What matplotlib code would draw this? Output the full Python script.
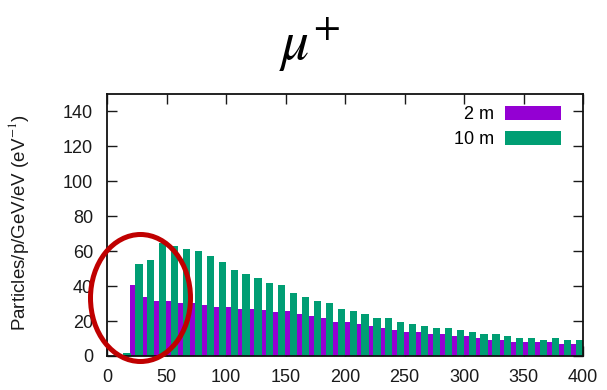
import matplotlib
matplotlib.use("Agg")
import matplotlib.pyplot as plt
from matplotlib.patches import Ellipse
import numpy as np

# ---- data ----
bin_starts = list(range(10, 400, 10))
vals_2m = [0.0, 40.5, 33.8, 31.7, 31.7, 30.5, 30.5, 29.4, 28.3, 28.3,
           27.1, 27.1, 26.1, 25.0, 26.0, 23.9, 22.7, 21.6, 19.4, 19.4,
           18.3, 17.1, 16.0, 14.8, 13.9, 13.9, 12.7, 12.7, 11.6, 11.4,
           10.3, 9.1, 9.1, 8.0, 8.0, 8.0, 8.0, 6.8, 6.8]
vals_10m = [1.5, 52.8, 54.8, 64.8, 62.8, 61.5, 60.4, 57.3, 53.7, 49.5,
            47.2, 44.9, 41.6, 40.5, 36.2, 33.9, 31.7, 30.5, 27.1, 25.9,
            23.8, 21.5, 21.5, 19.4, 18.3, 17.1, 16.0, 16.0, 14.9, 13.7,
            12.6, 12.6, 11.4, 10.3, 10.3, 9.1, 10.3, 9.1, 9.1]
labels = ["2 m", "10 m"]
xticks = [0, 50, 100, 150, 200, 250, 300, 350, 400]
yticks = [0, 20, 40, 60, 80, 100, 120, 140]

PURPLE = "#9400D3"
GREEN = "#009E73"

plt.rcParams['font.family'] = ['Liberation Sans', 'DejaVu Sans']
plt.rcParams['mathtext.fontset'] = 'stix'

W, H = 607, 390
fig = plt.figure(figsize=(W / 100, H / 100), dpi=100)
ax = fig.add_axes([107 / W, 1 - 356 / H, (583 - 107) / W, (356 - 94) / H])

x = np.array(bin_starts, dtype=float)
ax.bar(x - 0.3, vals_2m, width=4.3, align='edge', color=PURPLE,
       linewidth=0, label=labels[0], zorder=2)
ax.bar(x + 3.8, vals_10m, width=6.1, align='edge', color=GREEN,
       linewidth=0, label=labels[1], zorder=3)

ax.set_xlim(0, 400)
ax.set_ylim(0, 150)
ax.set_xticks(xticks)
ax.set_yticks(yticks)
ax.tick_params(direction='in', length=7.2, width=1.0, top=True, right=True,
               labelsize=13, colors='#1a1a1a')
ax.tick_params(axis='x', pad=9)
ax.tick_params(axis='y', pad=10)
for s in ax.spines.values():
    s.set_linewidth(1.3)
    s.set_color('#111111')
    s.set_zorder(5)

ax.set_ylabel("Particles/p/GeV/eV (eV$^{-1}$)", fontsize=13.5, color='#1a1a1a')
ax.yaxis.set_label_coords((31 - 107) / 476, (356 - 223) / 262)

leg = ax.legend(loc='upper right', bbox_to_anchor=((561 - 107) / 476, (356 - 106) / 262),
                frameon=False, markerfirst=False, fontsize=13,
                handlelength=3.1, handleheight=0.8, handletextpad=0.6,
                labelspacing=0.45, borderpad=0, borderaxespad=0)

fig.text(310 / W, 1 - 60 / H, r"$\mu^{+}$", fontsize=40, ha='center',
         va='baseline', color='black')

ell = Ellipse((140.5 / W, 1 - 298 / H), 100 / W, 127 / H,
              transform=fig.transFigure, fill=False, edgecolor='#C00000',
              linewidth=3.6, zorder=10)
fig.patches.append(ell)

fig.savefig("out.png", dpi=100)
